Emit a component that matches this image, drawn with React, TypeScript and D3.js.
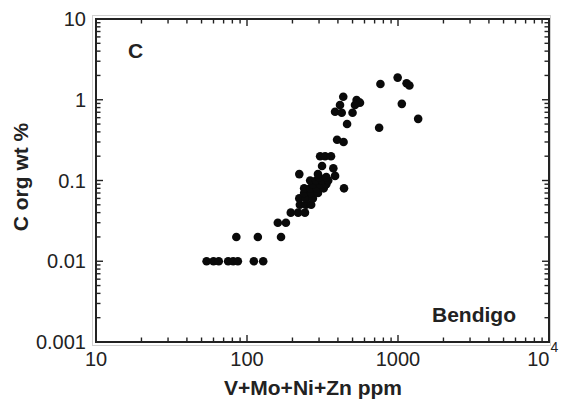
import React from "react";
import * as d3 from "d3";

const ppm: number[] = [
  54, 60, 65, 75, 81, 87, 111, 128,
  85, 118, 168,
  160, 181,
  195, 218, 242,
  224, 246, 266,
  222, 246, 273,
  239, 266, 295,
  239, 262, 290, 322, 439,
  273, 305, 335,
  262, 287, 314, 345,
  300, 335, 383,
  222, 295,
  373,
  314,
  305, 329, 360,
  395, 436,
  434, 413, 383, 424, 532, 560, 519, 500, 460,
  765, 995, 1140, 1190, 1060, 1360, 750,
];

const corg: number[] = [
  0.01, 0.01, 0.01, 0.01, 0.01, 0.01, 0.01, 0.01,
  0.02, 0.02, 0.02,
  0.03, 0.03,
  0.04, 0.04, 0.04,
  0.05, 0.05, 0.05,
  0.06, 0.06, 0.06,
  0.07, 0.07, 0.07,
  0.08, 0.08, 0.08, 0.08, 0.08,
  0.09, 0.09, 0.09,
  0.1, 0.1, 0.1, 0.1,
  0.11, 0.11, 0.114,
  0.12, 0.12,
  0.142,
  0.151,
  0.2, 0.2, 0.2,
  0.32, 0.3,
  1.09, 0.86, 0.71, 0.69, 0.99, 0.92, 0.86, 0.69, 0.5,
  1.57, 1.88, 1.6, 1.5, 0.89, 0.58, 0.45,
];

const xTickLabels: number[] = [10, 100, 1000];
const yTickLabels: { v: number; t: string }[] = [
  { v: 10, t: "10" },
  { v: 1, t: "1" },
  { v: 0.1, t: "0.1" },
  { v: 0.01, t: "0.01" },
  { v: 0.001, t: "0.001" },
];

const W = 565;
const H = 407;
const L = 96, R = 549, T = 19, B = 342;

export default function App() {
  const x = d3.scaleLog().domain([10, 10000]).range([L, R]);
  const y = d3.scaleLog().domain([0.001, 10]).range([B, T]);
  const isMajor = (v: number) => Math.abs(Math.log10(v) - Math.round(Math.log10(v))) < 1e-9;
  const xt = x.ticks();
  const yt = y.ticks();
  const col = "#222";
  const font = "Arial, 'Liberation Sans', Helvetica, sans-serif";
  const MAJ = 7, MIN = 4.5;

  return (
    <svg width={W} height={H} style={{ position: "absolute", left: 0, top: 0, background: "#fff" }}>
      <rect x={0} y={0} width={W} height={H} fill="#fff" />
      <rect x={92.5} y={15.5} width={458} height={330} fill="none" stroke="#d0d0d0" strokeWidth={1} />
      {/* ticks */}
      <g stroke={col} strokeWidth={1.4}>
        {xt.map((v, i) => {
          const px = x(v);
          const len = isMajor(v) ? MAJ : MIN;
          return (
            <g key={"xt" + i}>
              <line x1={px} x2={px} y1={B} y2={B - len} />
              <line x1={px} x2={px} y1={T} y2={T + len} />
            </g>
          );
        })}
        {yt.map((v, i) => {
          const py = y(v);
          const len = isMajor(v) ? MAJ : MIN;
          return (
            <g key={"yt" + i}>
              <line x1={L} x2={L + len} y1={py} y2={py} />
              <line x1={R} x2={R - len} y1={py} y2={py} />
            </g>
          );
        })}
      </g>
      <rect x={L} y={T} width={R - L} height={B - T} fill="none" stroke={col} strokeWidth={2} />
      {/* points */}
      <g fill="#0a0a0a">
        {ppm.map((v, i) => (
          <circle key={"p" + i} cx={x(v)} cy={y(corg[i])} r={4.3} />
        ))}
      </g>
      {/* tick labels */}
      <g fontFamily={font} fontSize={20} fill={col}>
        {xTickLabels.map((v) => (
          <text key={"xl" + v} x={x(v)} y={366} textAnchor="middle">
            {String(v)}
          </text>
        ))}
        <text x={x(10000) + 0.5} y={366} textAnchor="end">10</text>
        <text x={x(10000) + 1.5} y={352} fontSize={14}>4</text>
        {yTickLabels.map((d) => (
          <text key={"yl" + d.t} x={86} y={y(d.v)} dy="0.35em" textAnchor="end">
            {d.t}
          </text>
        ))}
      </g>
      {/* titles */}
      <g fontFamily={font} fontSize={21} fontWeight="bold" fill={col}>
        <text x={313} y={395} textAnchor="middle">V+Mo+Ni+Zn ppm</text>
        <text transform={`translate(28,177) rotate(-90)`} textAnchor="middle">C org wt %</text>
        <text x={128} y={58}>C</text>
        <text x={432} y={322}>Bendigo</text>
      </g>
    </svg>
  );
}
